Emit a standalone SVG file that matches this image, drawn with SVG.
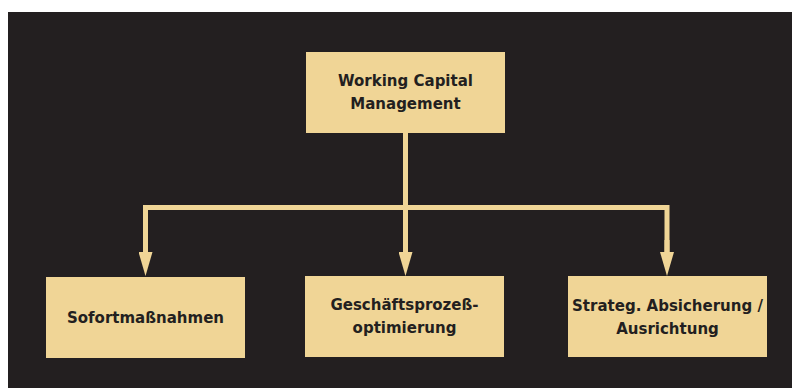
<svg xmlns="http://www.w3.org/2000/svg" width="792" height="388" viewBox="0 0 792 388">
<style>
.box{fill:#f0d596}
.lbl{font-family:"DejaVu Sans","Liberation Sans",sans-serif;font-weight:bold;font-size:15px;fill:#231f20;text-anchor:middle}
.con{fill:none;stroke:#f0d596;stroke-width:5;stroke-linejoin:miter}
</style>
<defs>
<marker id="ah" viewBox="0 -7 24 14" markerWidth="24" markerHeight="14" refX="0" refY="0" orient="auto" markerUnits="userSpaceOnUse">
<path d="M0,-7 L24,0 L0,7 z" fill="#f0d596"/>
</marker>
</defs>
<rect x="0" y="0" width="792" height="388" fill="#ffffff"/>
<rect x="8" y="12" width="784" height="376" fill="#231f20"/>
<g id="connectors">
<path class="con" d="M405.5,133 V252" marker-end="url(#ah)"/>
<path class="con" d="M145.5,252 V207.5 H667 V252"/>
<path class="con" d="M145.5,240 V252" marker-end="url(#ah)"/>
<path class="con" d="M667,240 V252" marker-end="url(#ah)"/>
</g>
<g id="n-root">
<rect class="box" x="306" y="52" width="199" height="81"/>
<text class="lbl" x="405.5" y="86">Working Capital</text>
<text class="lbl" x="405.5" y="109">Management</text>
</g>
<g id="n-sofort">
<rect class="box" x="46" y="277" width="199" height="81"/>
<text class="lbl" x="145.5" y="323">Sofortmaßnahmen</text>
</g>
<g id="n-prozess">
<rect class="box" x="305" y="276" width="199" height="81"/>
<text class="lbl" x="404.5" y="310">Geschäftsprozeß-</text>
<text class="lbl" x="404.5" y="333">optimierung</text>
</g>
<g id="n-strateg">
<rect class="box" x="568" y="276" width="199" height="81"/>
<text class="lbl" x="667.5" y="311">Strateg. Absicherung /</text>
<text class="lbl" x="667.5" y="334">Ausrichtung</text>
</g>
</svg>
